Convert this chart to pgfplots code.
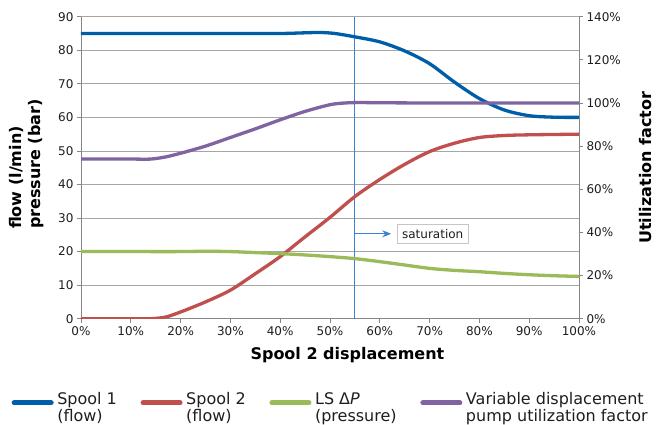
\documentclass[border=0pt]{standalone}
\usepackage{fontspec}
\setmainfont{DejaVu Sans}
\usepackage{pgfplots}
\pgfplotsset{compat=1.18}
\usetikzlibrary{arrows.meta}
\definecolor{cblue}{RGB}{0,94,168}
\definecolor{cred}{RGB}{192,80,77}
\definecolor{cgreen}{RGB}{155,187,89}
\definecolor{cpurple}{RGB}{128,100,162}
\definecolor{csat}{RGB}{60,130,210}
\definecolor{cgrid}{RGB}{166,166,166}
\definecolor{caxis}{RGB}{134,134,134}
\definecolor{ctext}{RGB}{30,30,30}
\begin{document}
\begin{tikzpicture}
\path[use as bounding box] (0,0) rectangle (662pt,425pt);
\begin{axis}[
  at={(81pt,106.3pt)}, anchor=south west,
  scale only axis, width=498pt, height=302pt,
  xmin=0, xmax=100, ymin=0, ymax=90,
  xtick={0,10,...,100}, ytick={0,10,...,90},
  xticklabel={\pgfmathprintnumber{\tick}\%},
  /pgf/number format/assume math mode=true,
  axis x line*=bottom, axis y line*=left,
  axis line style={caxis, line width=0.8pt, -},
  ymajorgrids, grid style={cgrid, line width=0.8pt},
  tick align=outside, major tick length=4pt,
  tick style={caxis, line width=0.8pt},
  tick label style={font=\fontsize{12}{14}\selectfont, text=ctext},
  xlabel={Spool 2 displacement},
  xlabel style={font=\bfseries\fontsize{16}{19}\selectfont, at={(axis description cs:0.535,-0.12)}, anchor=center},
  ylabel={flow (l/min)\\pressure (bar)},
  ylabel style={align=left, font=\bfseries\fontsize{16}{19}\selectfont, at={(axis description cs:-0.109,0.512)}, anchor=center},
  legend columns=4,
  legend style={at={(axis description cs:-0.149,-0.238)}, anchor=north west, draw=none, fill=none,
    font=\fontsize{16}{16.3}\selectfont, text=ctext, cells={anchor=base west}, nodes={inner xsep=0pt, inner ysep=0pt},
    /tikz/every odd column/.append style={column sep=2pt},
    /tikz/every even column/.append style={column sep=22pt}},
  legend image code/.code={\path (0pt,0pt) (42pt,0pt); \draw[#1, line width=5pt, line cap=round] (2.5pt,2pt) -- (39.5pt,2pt);},
]
\draw[csat, line width=1pt] (axis cs:55,0) -- (axis cs:55,90);
\draw[csat, line width=0.9pt, -{Stealth[length=9pt,width=7pt]}] (axis cs:55,25.3) -- (axis cs:62.3,25.3);
\node[draw=gray!45, line width=0.8pt, fill=white, font=\fontsize{12}{14}\selectfont, text=ctext, inner xsep=5pt, inner ysep=4.5pt, anchor=west] at (axis cs:63.4,25.3) {saturation};

\addplot[cblue, line width=3.3pt, smooth] coordinates {
(0,85) (10,85) (20,85) (30,85) (40,85) (45,85.2) (48,85.3) (51,85) (55,84) (60,82.5) (65,79.8) (70,76) (75,70.5) (80,65.6) (85,62.2) (90,60.5) (95,60.05) (100,60)};
\addlegendentry{\begin{tabular}[t]{@{}l@{}}Spool 1\\(flow)\end{tabular}}
\addplot[cred, line width=3.3pt, smooth] coordinates {
(0,0) (5,0) (10,0) (14,0) (17,0.5) (20,2) (25,5) (30,8.5) (35,13.4) (40,18.5) (45,24.4) (50,30.2) (55,36.4) (60,41.5) (65,46) (70,49.8) (75,52.3) (80,54) (85,54.6) (90,54.8) (95,54.9) (100,55)};
\addlegendentry{\begin{tabular}[t]{@{}l@{}}Spool 2\\(flow)\end{tabular}}
\addplot[cgreen, line width=3.3pt, smooth] coordinates {
(0,20) (10,20) (20,20) (25,20.1) (30,20) (35,19.7) (40,19.4) (45,19) (50,18.5) (55,17.9) (60,17) (65,16) (70,15) (75,14.4) (80,14) (85,13.5) (90,13.1) (95,12.8) (100,12.6)};
\addlegendentry{\begin{tabular}[t]{@{}l@{}}LS Δ\textit{P}\\(pressure)\end{tabular}}
\addlegendimage{cpurple, line width=3.3pt}
\addlegendentry{\begin{tabular}[t]{@{}l@{}}Variable displacement\\pump utilization factor\end{tabular}}
\end{axis}
\begin{axis}[
  at={(81pt,106.3pt)}, anchor=south west,
  scale only axis, width=498pt, height=302pt,
  xmin=0, xmax=100, ymin=0, ymax=140,
  axis x line=none, axis y line*=right,
  ytick={0,20,...,140},
  yticklabel={\pgfmathprintnumber{\tick}\%},
  /pgf/number format/assume math mode=true,
  axis line style={caxis, line width=0.8pt, -},
  tick align=outside, major tick length=4pt,
  tick style={caxis, line width=0.8pt},
  tick label style={font=\fontsize{12}{14}\selectfont, text=ctext},
  ylabel={Utilization factor},
  ylabel style={font=\bfseries\fontsize{16}{19}\selectfont, at={(axis description cs:1.1345,0.5)}, anchor=center},
]
\addplot[cpurple, line width=3.3pt, smooth] coordinates {
(0,74) (10,74) (14,74) (17,75) (20,76.7) (25,80) (30,84) (35,88) (40,92.2) (45,96.1) (50,99.2) (53,100) (56,100.2) (60,100.1) (70,100) (80,100) (90,100) (100,100)};
\end{axis}
\end{tikzpicture}
\end{document}
